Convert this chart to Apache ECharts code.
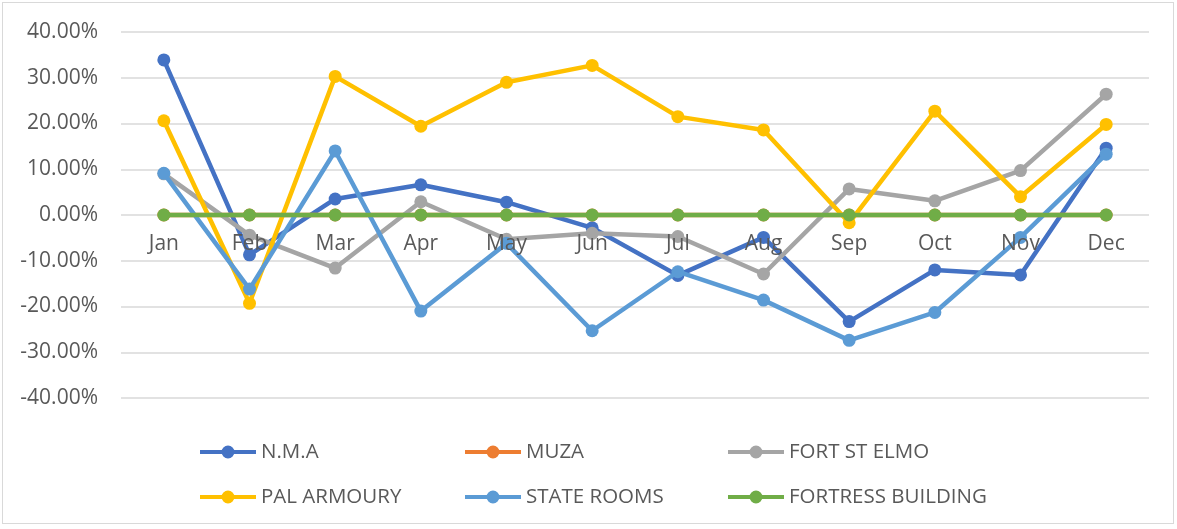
<!DOCTYPE html>
<html>
<head>
<meta charset="utf-8">
<script src="https://cdn.jsdelivr.net/npm/echarts@6/dist/echarts.min.js"></script>
<style>
html,body{margin:0;padding:0;background:#fff;}
#wrap{position:absolute;left:2px;top:2px;width:1172px;height:522px;border:1px solid #d9d9d9;box-sizing:border-box;}
#chart{position:absolute;left:0;top:0;width:1177px;height:529px;}
</style>
</head>
<body>
<div id="wrap"></div>
<div id="chart"></div>
<script>
const categories = ['Jan','Feb','Mar','Apr','May','Jun','Jul','Aug','Sep','Oct','Nov','Dec'];
const nma = [33.9,-8.7,3.5,6.6,2.8,-2.8,-13.2,-4.9,-23.3,-12.0,-13.1,14.6];
const muza = [0,0,0,0,0,0,0,0,0,0,0,0];
const fortStElmo = [9.0,-4.4,-11.6,2.9,-5.3,-4.0,-4.7,-12.9,5.7,3.1,9.7,26.4];
const palArmoury = [20.6,-19.3,30.3,19.4,29.0,32.7,21.5,18.6,-1.7,22.7,4.0,19.8];
const stateRooms = [9.1,-16.2,14.0,-21.0,-6.2,-25.3,-12.4,-18.6,-27.4,-21.3,-4.9,13.3];
const fortress = [0,0,0,0,0,0,0,0,0,0,0,0];

const names = ['N.M.A','MUZA','FORT ST ELMO','PAL ARMOURY','STATE ROOMS','FORTRESS BUILDING'];
const colors = ['#4472C4','#ED7D31','#A5A5A5','#FFC000','#5B9BD5','#70AD47'];
const datas = [nma,muza,fortStElmo,palArmoury,stateRooms,fortress];

const font = '"Open Sans", "Noto Sans", sans-serif';
const chart = echarts.init(document.getElementById('chart'));

const gridTop = 32, gridBottom = 131, H = 529;
const gridHeight = H - gridTop - gridBottom;
const yMin = -40, yMax = 40;
// shift the category axis up to the zero line of the value axis
const zeroOffset = -gridHeight * (0 - yMin) / (yMax - yMin);

// legend icon: thick line with a dot in the middle (56 x 13 box)
const lineDotIcon = 'path://M0,4.5 H56 V8.5 H0 Z M21.5,6.5 A6.5,6.5 0 1,1 34.5,6.5 A6.5,6.5 0 1,1 21.5,6.5 Z';

const legendPos = [[200,440],[465,440],[728,440],[200,485],[465,485],[728,485]];
const legends = names.map((n,i)=>({
  data:[{name:n, icon:lineDotIcon}], left:legendPos[i][0], top:legendPos[i][1]+1,
  itemWidth:56, itemHeight:13, itemGap:0, padding:0,
  textStyle:{color:'#595959', fontSize:20.5, lineHeight:22, fontFamily:font}
}));

chart.setOption({
  animation:false,
  color: colors,
  grid:{left:121, right:28, top:gridTop, bottom:gridBottom, containLabel:false},
  legend: legends,
  xAxis:{
    type:'category', data:categories, boundaryGap:true,
    position:'bottom', offset: zeroOffset, z: 20,
    axisLine:{show:false, onZero:false},
    axisTick:{show:false},
    axisLabel:{color:'#595959', fontSize:21, fontFamily:font, margin:19},
    splitLine:{show:false}
  },
  yAxis:{
    type:'value', min:yMin, max:yMax, interval:10,
    axisLine:{show:false}, axisTick:{show:false},
    axisLabel:{color:'#595959', fontSize:21, fontFamily:font, margin:23,
      formatter:v=>v.toFixed(2)+'%'},
    splitLine:{lineStyle:{color:'#d9d9d9', width:1.5}}
  },
  series: names.map((n,i)=>({
    name:n, type:'line', data:datas[i],
    symbol:'circle', symbolSize:13,
    lineStyle:{width:4.5, color:colors[i]},
    itemStyle:{color:colors[i]},
    z: 2+i
  }))
});
</script>
</body>
</html>
